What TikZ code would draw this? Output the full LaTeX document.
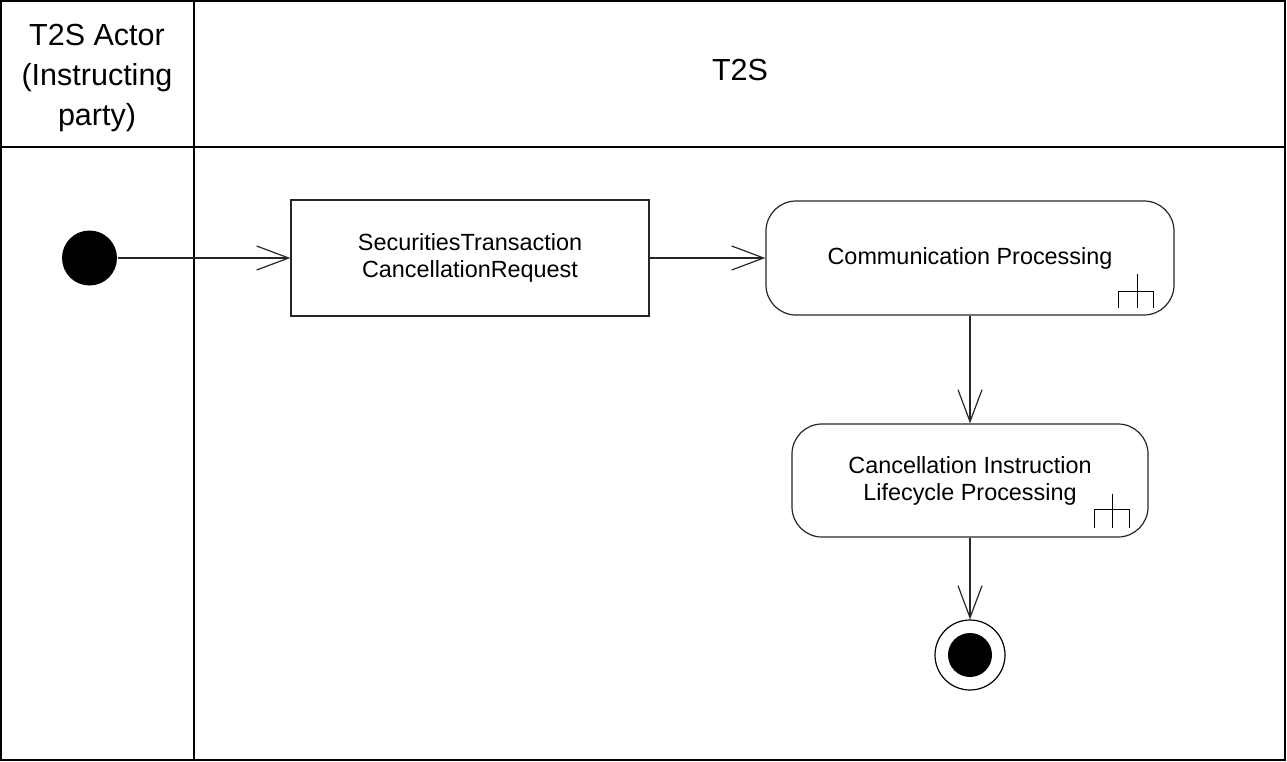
\documentclass[tikz,border=0pt]{standalone}
\usepackage{fontspec}
\setmainfont{Liberation Sans}
\usetikzlibrary{arrows.meta}
\begin{document}
\begin{tikzpicture}[x=1pt,y=-1pt,
  line width=1.2pt,
  frame/.style={draw=black, line width=1.4pt},
  hdr/.style={align=center, font=\fontsize{30.5}{40}\selectfont, inner sep=0},
  actbox/.style={draw=black!85, rectangle, inner sep=0, align=center,
     font=\fontsize{23.4}{27}\selectfont},
  actround/.style={actbox, rounded corners=30pt},
  flow/.style={draw=black!85, -{Straight Barb[length=32pt,width=24pt]}},
  rake/.style={draw=black, line width=1.3pt}
]
\useasboundingbox (0,0) rectangle (1287,762);
% swimlane frame
\draw[frame] (1,1) rectangle (1285,760);
\draw[frame] (1,147) -- (1285,147);
\draw[frame] (194,1) -- (194,760);
\node[hdr] (hactor) at (97,78) {T2S Actor\\(Instructing\\party)};
\node[hdr] (ht2s) at (740,70) {T2S};
% nodes
\node[circle, fill=black, minimum size=55pt, inner sep=0] (init) at (89.5,258) {};
\node[actbox, minimum width=358pt, minimum height=116pt] (req) at (470,258)
  {SecuritiesTransaction\\CancellationRequest};
\node[actround, minimum width=408pt, minimum height=114pt] (comm) at (970,258)
  {Communication Processing};
\node[actround, minimum width=356pt, minimum height=113pt] (canc) at (970,480.5)
  {Cancellation Instruction\\Lifecycle Processing};
\node[circle, draw=black, line width=1.2pt, minimum size=70pt, inner sep=0] (final) at (970,655) {};
\node[circle, fill=black, minimum size=44pt, inner sep=0] (finalin) at (final) {};
% rakes
\draw[rake] ([shift={(-37,-42)}]comm.south east) -- ([shift={(-37,-8)}]comm.south east);
\draw[rake] ([shift={(-56,-8)}]comm.south east) -- ([shift={(-56,-24)}]comm.south east)
  -- ([shift={(-21,-24)}]comm.south east) -- ([shift={(-21,-8)}]comm.south east);
\draw[rake] ([shift={(-36,-44)}]canc.south east) -- ([shift={(-36,-10)}]canc.south east);
\draw[rake] ([shift={(-54,-10)}]canc.south east) -- ([shift={(-54,-28)}]canc.south east)
  -- ([shift={(-19,-28)}]canc.south east) -- ([shift={(-19,-10)}]canc.south east);
% flows
\draw[flow] (init) -- (req);
\draw[flow] (req) -- (comm);
\draw[flow] (comm.south) -- (canc.north);
\draw[flow] (canc.south) -- (final.north);
\end{tikzpicture}
\end{document}
